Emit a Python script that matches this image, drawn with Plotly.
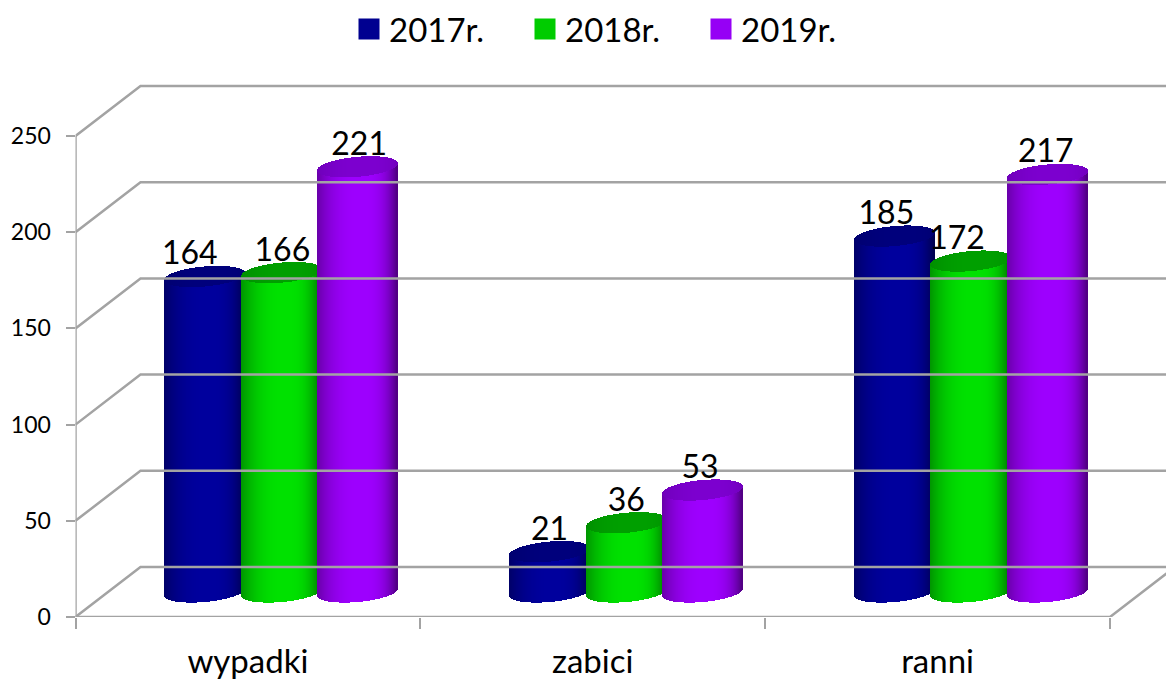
import numpy as np
import plotly.graph_objects as go

categories = ["wypadki", "zabici", "ranni"]
series_names = ["2017r.", "2018r.", "2019r."]
values_2017 = [164, 21, 185]
values_2018 = [166, 36, 172]
values_2019 = [221, 53, 217]
y_ticks = [0, 50, 100, 150, 200, 250]

# chart geometry / style
W, H = 1166, 681
X0, X1, Y0 = 75.5, 1110.0, 617.0
PX_CAT = (X1 - X0) / 3
PX_V = 1.924
DEPTH_X = 65 / PX_CAT
DEPTH_V = 50 / PX_V
XMAX = (W - X0) / PX_CAT
CYL_HALF = 40 / PX_CAT
CYL_PITCH = 76.7 / PX_CAT
CYL_SHIFT = 33 / PX_CAT
CAP_B = 10 / PX_V
CAP_TILT = 3.5 / PX_V
N = 80
GREY = "#a3a3a3"
FONT = "Lato"
BASE = [(0, 0, 158), (0, 226, 0), (158, 0, 255)]
LEGEND = ["#000090", "#00cc00", "#9600f5"]
CAP = [(0, 0, 125), (0, 160, 0), (125, 0, 208)]
LABEL_DX = [[-13, 2, -6], [3, 2, -12], [3, -1, 0]]


def shade(rgb, t):
    u = t - 0.1
    f = 1 - 0.34 * abs(u / 1.1) ** 2.5 if u < 0 else 1 - 0.50 * (u / 0.9) ** 3
    return "rgb(%d,%d,%d)" % tuple(int(c * f) for c in rgb)


fig = go.Figure()

# walls: one gridline per tick, front corner to back corner to the right edge
for v in y_ticks:
    fig.add_trace(go.Scatter(
        x=[0, DEPTH_X, XMAX], y=[v, v + DEPTH_V, v + DEPTH_V], mode="lines",
        line=dict(color=GREY, width=2.5), showlegend=False, hoverinfo="skip"))
fig.add_trace(go.Scatter(
    x=[0, 3, 3 + DEPTH_X], y=[0, 0, DEPTH_V], mode="lines",
    line=dict(color=GREY, width=2.5), showlegend=False, hoverinfo="skip", cliponaxis=False))

t = (np.arange(N) + 0.5) / N * 2 - 1
arc = CAP_B * np.sqrt(1 - t ** 2)
low = DEPTH_V / 2 + CAP_TILT * t - arc
label_x, label_y, label_text = [], [], []

for s, vals in enumerate([values_2017, values_2018, values_2019]):
    xs, body_base, body_h, cap_base, cap_h, body_c, cap_c = [], [], [], [], [], [], []
    for c, v in enumerate(vals):
        center = c + 0.5 + CYL_SHIFT + (s - 1) * CYL_PITCH
        xs.extend(center + t * CYL_HALF)
        body_base.extend(low)
        body_h.extend(np.full(N, float(v)))
        cap_base.extend(low + v)
        cap_h.extend(2 * arc)
        body_c.extend(shade(BASE[s], u) for u in t)
        cap_c.extend(shade(CAP[s], u * 0.6) for u in t)
        label_x.append(center + (LABEL_DX[s][c] - 1.5) / PX_CAT)
        label_y.append(v + DEPTH_V / 2 + CAP_B + 10 / PX_V)
        label_text.append(str(v))
    width = 2 * CYL_HALF / N * 1.25
    fig.add_trace(go.Bar(x=xs, y=body_h, base=body_base, width=width,
                         marker=dict(color=body_c, line=dict(width=0)),
                         showlegend=False, hoverinfo="skip", cliponaxis=False))
    fig.add_trace(go.Bar(x=xs, y=cap_h, base=cap_base, width=width,
                         marker=dict(color=cap_c, line=dict(width=0)),
                         showlegend=False, hoverinfo="skip", cliponaxis=False))

fig.add_trace(go.Scatter(x=label_x, y=label_y, text=label_text, mode="text",
                         textposition="middle center",
                         textfont=dict(family=FONT, size=32, color="#000"),
                         showlegend=False, hoverinfo="skip", cliponaxis=False))

for name, col in zip(series_names, LEGEND):
    fig.add_trace(go.Scatter(x=[None], y=[None], mode="markers", name=name,
                             marker=dict(symbol="square", size=16, color=col,
                                         line=dict(color=col, width=5))))

fig.update_layout(
    width=W, height=H, autosize=False,
    margin=dict(l=0, r=0, t=0, b=0, autoexpand=False),
    paper_bgcolor="white", plot_bgcolor="white", barmode="overlay", bargap=0,
    font=dict(family=FONT, color="#000"),
    legend=dict(orientation="h", xref="container", yref="container",
                x=349 / W, y=1 - 1 / H, xanchor="left", yanchor="top",
                entrywidth=131, entrywidthmode="pixels", itemwidth=30,
                font=dict(family=FONT, size=33), bgcolor="rgba(0,0,0,0)",
                traceorder="normal"),
    xaxis=dict(domain=[X0 / W, 1], range=[0, XMAX], tickmode="array",
               tickvals=[0.5, 1.5, 2.5], ticktext=categories, ticks="",
               showgrid=False, zeroline=False, showline=False,
               tickfont=dict(family=FONT, size=33), ticklabelstandoff=22,
               minor=dict(tickmode="array", tickvals=[0, 1, 2, 3], ticks="outside",
                          ticklen=11, tickwidth=2, tickcolor=GREY, showgrid=False)),
    yaxis=dict(domain=[(H - Y0) / H, 1], range=[0, Y0 / PX_V], tickmode="array",
               tickvals=y_ticks, ticks="outside", ticklen=9, tickwidth=2, tickcolor=GREY,
               showgrid=False, zeroline=False, showline=False, ticklabelstandoff=10,
               tickfont=dict(family=FONT, size=23)),
    shapes=[dict(type="line", xref="x", yref="y", x0=0, x1=0, y0=0, y1=y_ticks[-1],
                 line=dict(color=GREY, width=2.5), layer="below")],
)

fig.write_html("out.html", config={"displayModeBar": False},
               post_script="document.body.style.margin='0';document.body.style.overflow='hidden';")
